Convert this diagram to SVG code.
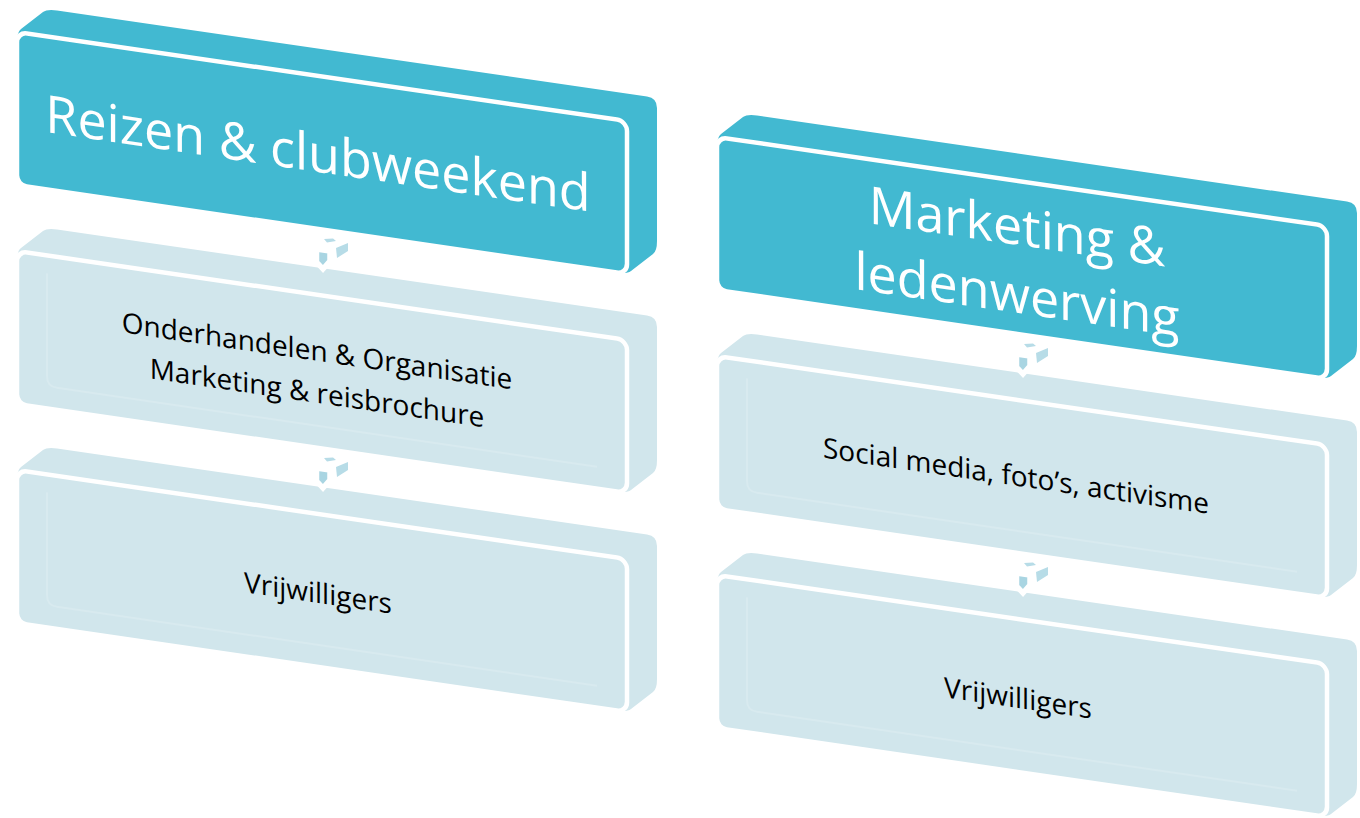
<svg xmlns="http://www.w3.org/2000/svg" xmlns:xlink="http://www.w3.org/1999/xlink" width="1360" height="818" viewBox="0 0 1360 818">
<style>
.body-dark{fill:#42B9D1;}
.body-light{fill:#D1E6EC;}
.face-dark{fill:#42B9D1;stroke:#FFFFFF;stroke-width:4.5;}
.face-light{fill:#D1E6EC;stroke:#FFFFFF;stroke-width:4.5;}
.bevel{fill:none;stroke:#D8EAEF;stroke-width:2;}
.t-head{font-family:"Open Sans","Noto Sans",sans-serif;font-size:52px;fill:#FFFFFF;text-anchor:middle;}
.t-sub{font-family:"Open Sans","Noto Sans",sans-serif;font-size:28px;fill:#000000;text-anchor:middle;}
.arr-front{fill:#A9D5E2;stroke:#FFFFFF;stroke-width:5.5;stroke-linejoin:miter;}
.arr-side{fill:#B7DCE7;}
</style>
<defs>
<path id="slab" d="M0,143 L0,10 Q0,0 4,-3.65 L26,-23.75 Q30,-27.4 40,-27.4 L630,-27.4 Q640,-27.4 640,-17.4 L640,115.6 Q640,125.6 636,129.25 L614,149.35 Q610,153 600,153 L10,153 Q0,153 0,143 Z"/>
<path id="bevelpath" d="M30,18 L30,121 Q30,131 40,131 L580,131"/>
<g id="arrow">
<polygon class="arr-side" points="1,-30 10,-30.5 13,-28 4,-26.5"/>
<polygon class="arr-side" points="13,-21 25,-26 25,-18 14,-11"/>
<polygon class="arr-front" points="-6.5,-20 7,-18 7,-8 0,0 -6.5,-7"/>
</g>
</defs>

<g id="node-reizen" transform="matrix(1,0.146,0,1,17,32)">
<use xlink:href="#slab" class="body-dark"/>
<rect class="face-dark" x="0" y="0" width="610" height="153" rx="10"/>
<text class="t-head" x="301" y="96">Reizen &amp; clubweekend</text>
</g>

<g id="node-onderhandelen" transform="matrix(1,0.146,0,1,17,251)">
<use xlink:href="#slab" class="body-light"/>
<rect class="face-light" x="0" y="0" width="610" height="153" rx="10"/>
<use xlink:href="#bevelpath" class="bevel"/>
<text class="t-sub" x="300" y="66">Onderhandelen &amp; Organisatie</text>
<text class="t-sub" x="300" y="108">Marketing &amp; reisbrochure</text>
</g>

<g id="node-vrijwilligers-1" transform="matrix(1,0.146,0,1,17,470)">
<use xlink:href="#slab" class="body-light"/>
<rect class="face-light" x="0" y="0" width="610" height="153" rx="10"/>
<use xlink:href="#bevelpath" class="bevel"/>
<text class="t-sub" x="301" y="89">Vrijwilligers</text>
</g>

<g id="node-marketing" transform="matrix(1,0.146,0,1,717,137)">
<use xlink:href="#slab" class="body-dark"/>
<rect class="face-dark" x="0" y="0" width="610" height="153" rx="10"/>
<text class="t-head" x="300" y="64">Marketing &amp;</text>
<text class="t-head" x="300" y="132">ledenwerving</text>
</g>

<g id="node-social" transform="matrix(1,0.146,0,1,717,356)">
<use xlink:href="#slab" class="body-light"/>
<rect class="face-light" x="0" y="0" width="610" height="153" rx="10"/>
<use xlink:href="#bevelpath" class="bevel"/>
<text class="t-sub" x="299" y="86">Social media, foto’s, activisme</text>
</g>

<g id="node-vrijwilligers-2" transform="matrix(1,0.146,0,1,717,575)">
<use xlink:href="#slab" class="body-light"/>
<rect class="face-light" x="0" y="0" width="610" height="153" rx="10"/>
<use xlink:href="#bevelpath" class="bevel"/>
<text class="t-sub" x="301" y="89">Vrijwilligers</text>
</g>

<g id="connectors">
<use xlink:href="#arrow" transform="translate(323,269)"/>
<use xlink:href="#arrow" transform="translate(323,488)"/>
<use xlink:href="#arrow" transform="translate(1023,374)"/>
<use xlink:href="#arrow" transform="translate(1023,593)"/>
</g>
</svg>
